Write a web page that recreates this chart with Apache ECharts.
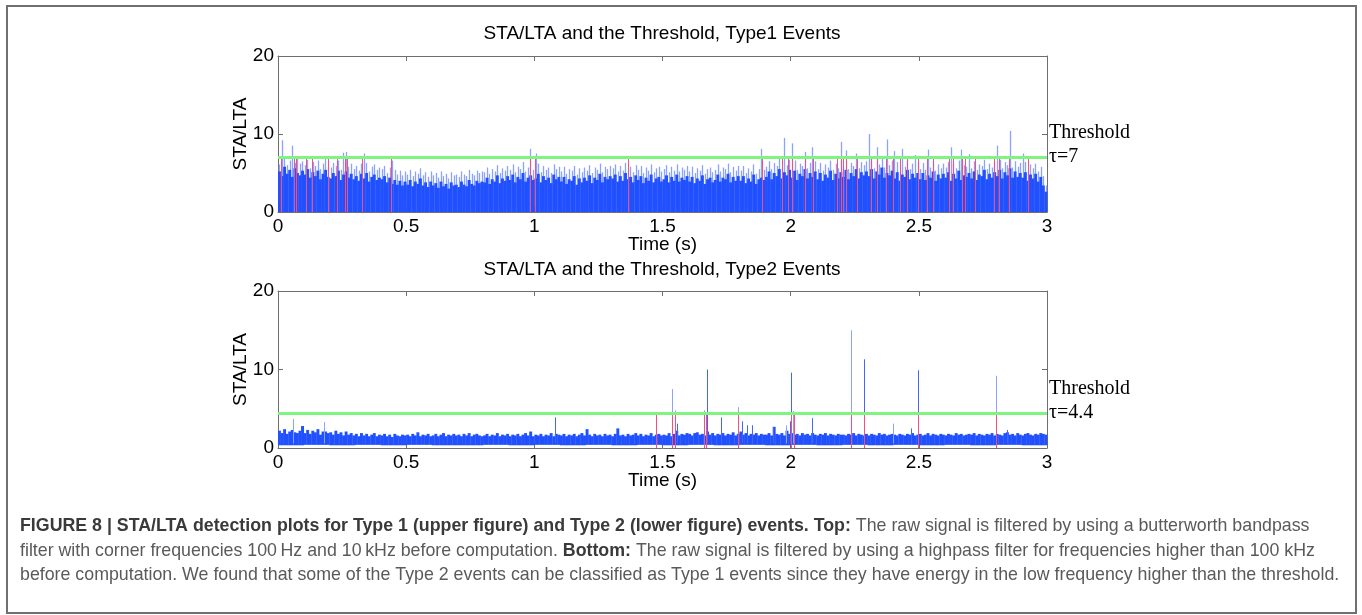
<!DOCTYPE html>
<html>
<head>
<meta charset="utf-8">
<script src="https://cdn.jsdelivr.net/npm/echarts@6/dist/echarts.min.js"></script>
<style>
html,body{margin:0;padding:0;background:#fff;}
#chart{width:1362px;height:615px;}
</style>
</head>
<body>
<div id="chart"></div>
<script>
// ---------- DATA ----------
const STEP = 0.01; // seconds per sample bin
const xTicks = [0, 0.5, 1, 1.5, 2, 2.5, 3];
const thresholds = [7, 4.4];
const titles = ['STA/LTA and the Threshold, Type1 Events', 'STA/LTA and the Threshold, Type2 Events'];

// Type 1: dark blue body height for each 0.01 s bin
const body1 = [
5.2,4.6,5.8,4.9,5.4,4.5,5.6,5.0,4.7,5.3,
4.8,5.5,4.4,5.1,4.6,5.3,4.2,4.9,5.4,4.5,
4.3,5.0,4.6,5.3,4.1,4.8,5.2,4.4,4.9,4.2,
4.6,4.0,4.9,4.3,5.0,3.9,4.5,4.8,4.1,4.4,
4.2,4.6,3.8,4.4,3.6,4.1,3.5,4.0,3.4,3.9,
3.5,4.1,3.3,3.9,3.6,4.3,3.4,3.8,3.2,3.9,
3.4,3.7,3.1,3.9,3.3,3.6,3.0,3.8,3.4,3.5,
3.2,3.9,3.5,3.3,4.1,3.6,3.4,4.0,3.7,3.9,
3.8,4.4,3.6,4.2,3.9,4.7,3.7,4.3,4.0,4.6,
4.1,4.8,3.8,4.5,4.2,5.0,3.9,4.4,4.7,4.1,
4.3,4.9,3.8,4.6,4.1,4.4,3.7,4.8,4.2,4.5,
3.9,4.5,3.6,4.2,4.0,4.6,3.5,4.3,3.8,4.4,
4.0,4.7,3.7,4.4,4.1,4.9,3.8,4.5,4.2,4.6,
4.3,4.8,3.9,4.6,4.0,5.0,4.2,4.5,3.8,4.7,
4.1,4.6,3.7,4.4,4.0,4.8,3.8,4.3,4.5,3.9,
4.2,4.7,3.8,4.5,4.0,4.8,3.9,4.4,4.1,4.6,
3.9,4.5,3.7,4.3,4.0,4.7,3.6,4.2,4.4,3.8,
4.1,4.8,3.9,4.4,4.2,4.9,3.8,4.5,4.0,4.6,
4.0,4.6,3.7,4.3,3.9,4.8,3.6,4.2,4.4,4.1,
4.5,5.2,4.2,5.0,4.6,5.5,4.3,5.1,4.7,5.4,
4.4,5.3,4.1,4.9,4.6,5.5,4.3,5.0,4.5,5.2,
4.2,5.0,4.0,4.8,4.4,5.3,4.1,4.9,4.3,5.1,
4.5,5.4,4.2,5.0,4.6,5.5,4.3,5.1,4.7,5.2,
4.6,5.5,4.3,5.2,4.8,5.7,4.4,5.0,4.7,5.3,
4.3,5.1,4.0,4.8,4.5,5.4,4.2,4.9,4.4,5.0,
4.2,5.0,4.1,4.7,4.4,5.2,4.0,4.8,4.3,4.9,
4.4,5.1,4.0,4.9,4.3,5.3,4.1,4.7,4.5,5.0,
4.3,5.2,4.1,4.8,4.6,5.4,4.2,4.9,4.4,5.1,
4.6,5.4,4.3,5.1,4.7,5.6,4.4,5.2,4.5,5.0,
4.4,5.1,4.0,4.8,4.3,4.9,3.9,4.5,3.4,2.6
];
// Type 1: light blue peak height for each 0.01 s bin
const peak1 = [
6.1,9.2,6.8,6.0,6.6,8.5,6.3,6.9,6.2,6.5,
6.0,6.7,5.6,6.4,5.9,6.6,5.5,6.2,6.8,5.8,
5.7,6.3,5.9,6.6,5.4,7.6,7.7,5.8,6.2,5.5,
5.9,5.3,6.2,7.5,6.3,5.2,5.8,6.1,5.4,5.7,
5.5,5.9,5.0,5.7,6.6,5.4,4.8,5.3,4.7,5.2,
4.8,5.4,4.6,5.2,4.9,5.6,4.7,5.1,4.5,5.2,
4.7,5.0,4.4,5.2,4.6,4.9,4.3,5.1,4.7,4.8,
4.5,5.2,4.8,4.6,5.4,4.9,4.7,5.3,5.0,5.2,
5.1,5.7,4.9,5.5,5.2,6.0,5.0,5.6,5.3,5.9,
5.4,6.1,5.1,5.8,5.5,6.4,5.2,5.7,8.1,5.4,
7.5,6.2,5.1,5.9,5.4,5.7,5.0,6.1,5.5,5.8,
5.2,5.8,4.9,5.5,5.3,5.9,4.8,5.6,5.1,5.7,
5.3,6.0,5.0,5.7,5.4,6.2,5.1,5.8,5.5,5.9,
5.6,6.1,5.2,5.9,5.3,6.3,5.5,5.8,5.1,6.0,
5.4,5.9,5.0,5.7,5.3,6.1,5.1,5.6,5.8,5.2,
5.5,6.0,5.1,5.8,5.3,6.1,5.2,5.7,5.4,5.9,
5.2,5.8,5.0,5.6,5.3,6.0,4.9,5.5,5.7,5.1,
5.4,6.1,5.2,5.7,5.5,6.2,5.1,5.8,5.3,5.9,
5.3,5.9,5.0,5.6,5.2,6.1,4.9,5.5,8.1,5.4,
5.8,6.5,5.5,6.3,5.9,6.8,5.6,9.5,6.0,6.7,
8.8,6.6,5.4,6.2,5.9,7.7,5.6,6.3,8.3,6.5,
5.5,6.3,5.3,6.1,5.7,6.6,5.4,6.2,5.6,9.0,
5.8,7.9,5.5,6.3,5.9,7.5,5.6,6.4,6.0,6.5,
10.0,6.8,5.6,8.3,6.1,7.0,5.7,9.3,6.0,6.6,
7.8,6.4,5.3,8.1,5.8,6.7,5.5,6.2,7.3,6.3,
5.5,6.3,5.4,8.0,5.7,6.5,5.3,6.1,5.6,6.2,
5.7,6.4,8.3,6.2,5.6,6.6,8.0,6.0,5.8,7.4,
5.6,6.5,5.4,6.1,5.9,6.7,5.5,6.2,5.7,6.4,
8.5,6.7,5.6,6.4,6.0,10.4,5.7,6.5,5.8,6.3,
7.5,6.4,5.3,6.1,5.6,6.2,5.2,5.8,4.6,3.4
];
// Type 1: detected events (red lines), seconds
const events1 = [0.013,0.062,0.072,0.11,0.134,0.195,0.231,0.263,0.269,0.329,0.442,0.984,1.001,1.364,
1.887,1.967,1.988,2.006,2.056,2.086,2.182,2.196,2.204,2.214,2.257,2.312,2.338,2.37,2.4,2.426,2.452,
2.498,2.533,2.554,2.619,2.634,2.667,2.681,2.721,2.794,2.814,2.851,2.924];

// Type 2: band upper edge for each 0.01 s bin
const hi2 = [
2.2,1.9,2.4,1.8,2.1,2.3,2.0,1.9,2.2,2.8,
1.9,2.3,1.8,2.2,2.0,2.4,1.7,2.1,2.1,1.9,
2.0,1.7,2.2,1.8,2.0,1.6,2.1,1.7,1.9,1.6,
1.8,1.5,1.9,1.6,1.8,1.5,1.7,1.9,1.5,1.7,
1.6,1.8,1.5,1.7,1.4,1.8,1.6,1.5,1.7,1.6,
1.7,1.5,1.8,1.6,2.0,1.5,1.7,1.6,1.8,1.5,
1.6,1.8,1.5,1.7,1.9,1.5,1.7,1.6,1.8,1.6,
1.7,1.5,1.8,1.6,1.9,1.5,1.7,1.8,1.6,1.5,
1.6,1.8,1.5,1.7,1.6,1.9,1.5,1.7,1.6,1.8,
1.5,1.7,1.6,1.8,1.5,1.7,1.9,1.6,2.1,1.5,
1.7,1.6,1.8,1.5,1.7,1.6,1.9,1.5,1.8,1.7,
1.6,1.8,1.5,1.7,1.6,1.8,1.5,1.7,1.9,1.6,
2.4,1.7,1.5,1.8,1.6,1.7,1.5,1.8,1.6,1.7,
1.5,1.8,2.5,1.6,1.7,1.5,1.8,1.6,1.7,1.9,
1.6,1.8,1.5,1.7,1.6,1.9,1.5,1.7,1.8,1.6,
1.7,1.6,1.9,1.5,1.8,2.2,1.6,1.8,1.7,1.9,
1.8,1.6,1.9,2.0,1.7,1.8,1.6,2.1,1.7,1.9,
1.6,1.8,1.7,1.9,1.6,1.8,1.7,2.0,1.6,1.8,
2.1,1.7,1.9,1.6,1.8,1.7,1.9,1.6,1.8,1.7,
1.7,1.9,1.6,2.7,1.8,1.7,1.9,1.6,2.2,1.8,
1.9,1.7,1.8,1.6,1.9,1.7,1.8,1.6,1.9,1.7,
1.6,1.8,1.7,1.9,1.6,1.8,1.7,1.6,1.8,1.7,
1.7,1.6,1.8,1.7,1.9,1.6,1.8,1.7,1.6,1.8,
1.6,1.8,1.7,1.6,1.9,1.7,1.8,1.6,1.7,1.8,
1.7,1.6,1.8,1.7,1.6,1.8,1.7,1.9,1.6,1.7,
1.8,1.6,1.7,1.9,1.6,1.8,1.7,1.6,1.8,1.7,
1.6,1.8,1.7,1.6,1.9,1.7,1.8,1.6,1.7,1.8,
1.7,1.9,1.6,1.8,1.7,1.6,1.8,1.7,1.9,1.6,
1.8,1.7,1.6,1.9,2.0,1.7,1.8,1.6,1.9,1.7,
1.6,1.8,1.9,1.7,1.6,1.8,1.7,1.9,1.8,1.7
];
// Type 2: band lower edge for each 0.1 s
const lo2 = [0.35,0.4,0.35,0.4,0.35,0.4,0.35,0.35,0.4,0.35,0.4,0.35,0.4,0.35,0.4,
0.35,0.4,0.35,0.4,0.35,0.4,0.35,0.4,0.35,0.4,0.35,0.4,0.35,0.4,0.35];
// Type 2: isolated spikes [time s, height]
const spikes2Light = [[0.06,3.7],[0.18,3.3],[1.538,7.5],[1.55,4.8],[1.66,4.8],[1.795,5.2],[1.98,2.9],[2.01,4.7],[2.236,15.0],[2.4,3.1],[2.8,9.2]];
const spikes2Dark = [[1.08,3.9],[1.555,3.1],[1.675,10.0],[1.727,3.9],[1.81,3.4],[1.83,2.9],[1.85,2.9],[1.93,2.7],[1.998,3.4],[2.0,9.6],[2.085,3.8],[2.285,11.3],[2.47,2.5],[2.497,9.9],[2.845,2.3]];
// Type 2: detected events (red lines), seconds
const events2 = [1.474,1.538,1.55,1.661,1.67,1.795,2.0,2.014,2.236,2.285,2.497,2.8];

// ---------- RENDER ----------
const FONT = 'Liberation Sans';
const DARK = '#2150ff', LIGHT = '#8aa3ff', RED = '#f4507f', GREEN = '#7ef57e', AX = '#6e6e6e';
const chart = echarts.init(document.getElementById('chart'), null, {renderer: 'canvas'});

const grids = [
  {left: 278, top: 56, width: 769, height: 156},
  {left: 278, top: 291, width: 769, height: 157}
];

function xAxes(g) {
  return [
    {gridIndex: g, type: 'value', min: 0, max: 3, interval: 0.5, position: 'bottom',
     name: 'Time (s)', nameLocation: 'middle', nameGap: 23, nameMoveOverlap: false,
     nameTextStyle: {fontFamily: FONT, fontSize: 19, color: '#000'},
     axisLine: {show: true, onZero: false, lineStyle: {color: AX, width: 1}},
     axisTick: {show: true, inside: true, length: 5, lineStyle: {color: AX}},
     axisLabel: {fontFamily: FONT, fontSize: 19, color: '#000', margin: 5},
     splitLine: {show: false}},
    {gridIndex: g, type: 'value', min: 0, max: 3, interval: 0.5, position: 'top',
     axisLine: {show: true, onZero: false, lineStyle: {color: AX, width: 1}},
     axisTick: {show: true, inside: true, length: 5, lineStyle: {color: AX}},
     axisLabel: {show: false}, splitLine: {show: false}}
  ];
}
function yAxes(g) {
  return [
    {gridIndex: g, type: 'value', min: 0, max: 20, interval: 10, position: 'left',
     name: 'STA/LTA', nameLocation: 'middle', nameGap: 28, nameRotate: 90, nameMoveOverlap: false,
     nameTextStyle: {fontFamily: FONT, fontSize: 19, color: '#000'},
     axisLine: {show: true, onZero: false, lineStyle: {color: AX, width: 1}},
     axisTick: {show: true, inside: true, length: 5, lineStyle: {color: AX}},
     axisLabel: {fontFamily: FONT, fontSize: 19, color: '#000', margin: 4},
     splitLine: {show: false}},
    {gridIndex: g, type: 'value', min: 0, max: 20, interval: 10, position: 'right',
     axisLine: {show: true, onZero: false, lineStyle: {color: AX, width: 1}},
     axisTick: {show: true, inside: true, length: 5, lineStyle: {color: AX}},
     axisLabel: {show: false}, splitLine: {show: false}}
  ];
}

function rectSeries(data, xi, yi, color) {
  return {type: 'custom', xAxisIndex: xi, yAxisIndex: yi, silent: true, animation: false,
    data: data,
    renderItem: function (params, api) {
      const t = api.value(0), lo = api.value(1), hi = api.value(2);
      const a = api.coord([t, lo]);
      const b = api.coord([t + STEP, hi]);
      return {type: 'rect', shape: {x: a[0], y: b[1], width: b[0] - a[0] + 0.35, height: a[1] - b[1]},
              style: {fill: color}};
    }};
}
function vlineSeries(data, xi, yi, color, z, w) {
  return {type: 'custom', xAxisIndex: xi, yAxisIndex: yi, silent: true, animation: false, z: z,
    data: data,
    renderItem: function (params, api) {
      const t = api.value(0), lo = api.value(1), hi = api.value(2);
      const a = api.coord([t, lo]);
      const b = api.coord([t, hi]);
      const x = Math.round(a[0]) + 0.5;
      return {type: 'line', shape: {x1: x, y1: a[1], x2: x, y2: b[1]},
              style: {stroke: color, lineWidth: w || 1}};
    }};
}
function thresholdSeries(v, xi, yi) {
  return {type: 'line', xAxisIndex: xi, yAxisIndex: yi, silent: true, animation: false, z: 5,
    symbol: 'none', data: [[0, v], [3, v]], lineStyle: {color: GREEN, width: 3}};
}

// build data from arrays
const peak1Data = peak1.map((v, i) => [i * STEP + STEP / 2, 0, v]);
const body1Data = body1.map((v, i) => [i * STEP, 0, v]);
const ev1Data = events1.map(t => [t, 0, thresholds[0] - 0.2]);
const band2Data = hi2.map((v, i) => [i * STEP, lo2[Math.floor(i / 10)], v]);
const sp2LData = spikes2Light.map(s => [s[0], 0.6, s[1]]);
const sp2DData = spikes2Dark.map(s => [s[0], 0.6, s[1]]);
const ev2Data = events2.map(t => [t, 0, thresholds[1] - 0.1]);

const caption = [
  '{b|FIGURE 8 | STA/LTA detection plots for Type 1 (upper figure) and Type 2 (lower figure) events. Top:}{n| The raw signal is filtered by using a butterworth bandpass}',
  '{n|filter with corner frequencies 100\u2009Hz and 10\u2009kHz before computation. }{b|Bottom:}{n| The raw signal is filtered by using a highpass filter for frequencies higher than 100 kHz}',
  '{n|before computation. We found that some of the Type 2 events can be classified as Type 1 events since they have energy in the low frequency higher than the threshold.}'
];
const captionY = [526, 551, 575];
const CAP = 17.8;

const option = {
  backgroundColor: '#fff',
  animation: false,
  title: titles.map((t, i) => ({
    text: t, left: 662, top: i === 0 ? 24 : 260, textAlign: 'center', padding: 0,
    textStyle: {fontFamily: FONT, fontSize: 19, fontWeight: 'normal', color: '#000'}
  })),
  grid: grids,
  xAxis: xAxes(0).concat(xAxes(1)),
  yAxis: yAxes(0).concat(yAxes(1)),
  series: [
    vlineSeries(peak1Data, 0, 0, LIGHT, 1, 1.3),
    rectSeries(body1Data, 0, 0, DARK),
    vlineSeries(ev1Data, 0, 0, RED, 3),
    thresholdSeries(thresholds[0], 0, 0),
    rectSeries(band2Data, 2, 2, DARK),
    vlineSeries(sp2LData, 2, 2, LIGHT, 2),
    vlineSeries(sp2DData, 2, 2, '#3f67ff', 2),
    vlineSeries(ev2Data, 2, 2, RED, 3),
    thresholdSeries(thresholds[1], 2, 2)
  ]
};
chart.setOption(option);

// threshold annotations + caption + frame
const g = [{type: 'rect', shape: {x: 7, y: 6, width: 1349, height: 607},
            style: {fill: 'none', stroke: '#707070', lineWidth: 2}, silent: true}];
thresholds.forEach((v, i) => {
  const p = chart.convertToPixel({gridIndex: i}, [3, v]);
  g.push({type: 'text', x: p[0] + 2, y: p[1] - 25, silent: true,
          style: {text: 'Threshold', font: '20px "Liberation Serif"', fill: '#000', textVerticalAlign: 'middle'}});
  g.push({type: 'text', x: p[0] + 2, y: p[1] - 1, silent: true,
          style: {text: '\u03c4=' + v, font: '20px "Liberation Serif"', fill: '#000', textVerticalAlign: 'middle'}});
});
caption.forEach((c, i) => {
  g.push({type: 'text', x: 20, y: captionY[i], silent: true,
    style: {text: c, fontFamily: FONT, fontSize: CAP, textVerticalAlign: 'middle',
      rich: {b: {fontWeight: 'bold', fill: '#3a3a3a', fontFamily: FONT, fontSize: CAP},
             n: {fill: '#5a5a5a', fontFamily: FONT, fontSize: CAP}}}});
});
chart.setOption({graphic: g});
</script>
</body>
</html>
